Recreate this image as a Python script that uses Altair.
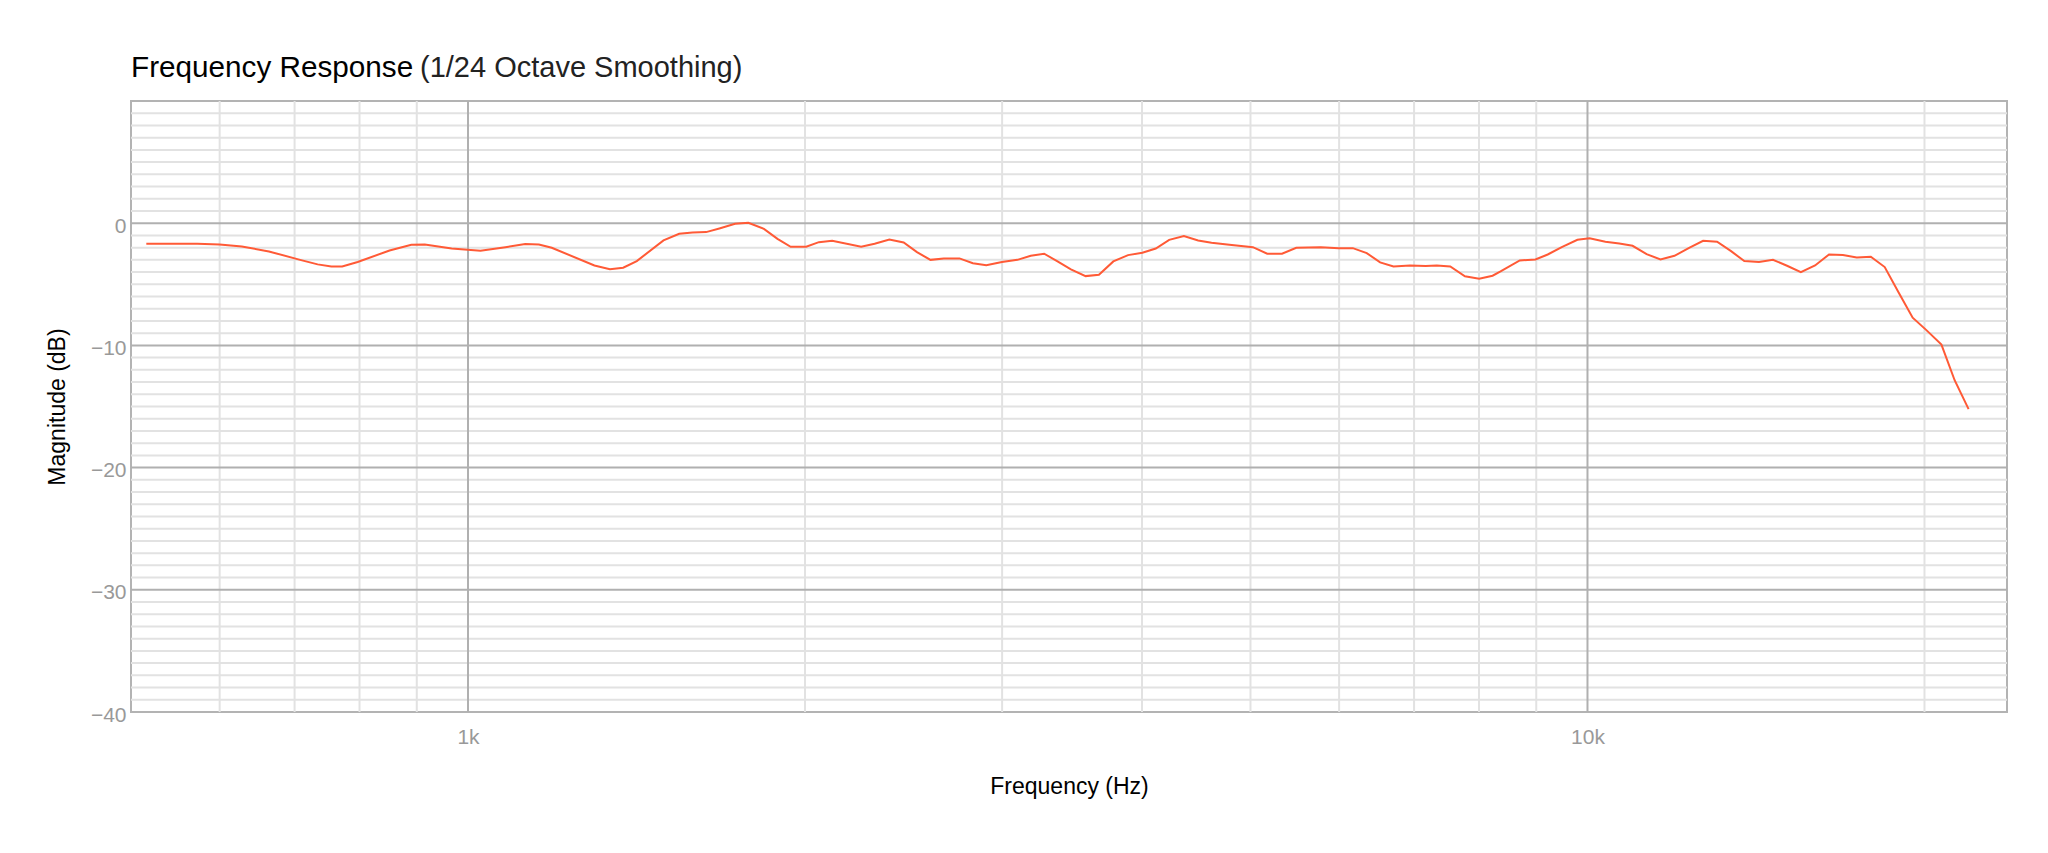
import altair as alt
import pandas as pd

# ---- data ----
freq_hz = [516, 573, 600, 628, 664, 708, 734, 755, 772, 797, 851, 890, 915, 967,
           1026, 1080, 1125, 1157, 1188, 1297, 1339, 1376, 1415, 1495, 1544, 1587,
           1632, 1677, 1732, 1780, 1838, 1890, 1942, 2005, 2058, 2115, 2245, 2308,
           2379, 2450, 2518, 2589, 2661, 2748, 2825, 2904, 2999, 3096, 3182, 3271,
           3362, 3456, 3562, 3661, 3771, 3887, 4003, 4115, 4230, 4360, 4490, 4615,
           4788, 5025, 5175, 5335, 5494, 5778, 5995, 6172, 6351, 6528, 6710, 6942,
           7168, 7335, 7541, 7772, 8003, 8227, 8363, 8700, 8985, 9215, 9485, 9795,
           10044, 10375, 10676, 10972, 11293, 11620, 11960, 12325, 12685, 13055,
           13436, 13807, 14230, 14645, 15075, 15510, 15970, 16435, 16910, 17400,
           17910, 18430, 18970, 19520, 20090, 20710, 21280, 21900]
magnitude_db = [-1.68, -1.68, -1.74, -1.90, -2.31, -3.00, -3.37, -3.54, -3.54, -3.18,
                -2.23, -1.77, -1.74, -2.07, -2.26, -1.96, -1.71, -1.74, -2.01, -3.46,
                -3.76, -3.64, -3.10, -1.41, -0.87, -0.76, -0.73, -0.43, -0.05, 0.03,
                -0.46, -1.28, -1.93, -1.93, -1.55, -1.44, -1.93, -1.68, -1.33, -1.58,
                -2.37, -3.00, -2.88, -2.88, -3.27, -3.43, -3.18, -3.00, -2.67, -2.50,
                -3.13, -3.78, -4.33, -4.22, -3.13, -2.61, -2.42, -2.07, -1.36, -1.06,
                -1.41, -1.60, -1.77, -1.96, -2.50, -2.50, -2.01, -1.96, -2.04, -2.04,
                -2.45, -3.21, -3.54, -3.46, -3.51, -3.46, -3.54, -4.35, -4.54, -4.30,
                -3.95, -3.05, -2.97, -2.56, -1.96, -1.36, -1.23, -1.52, -1.66, -1.85,
                -2.53, -2.97, -2.67, -2.01, -1.44, -1.52, -2.29, -3.10, -3.18, -2.99,
                -3.48, -4.00, -3.46, -2.56, -2.61, -2.80, -2.75, -3.59, -5.69, -7.73,
                -8.77, -9.93, -12.85, -15.22]

x_tick_values = [1000, 10000]
y_tick_values = [-40, -30, -20, -10, 0]
minor_x_hz = [600, 700, 800, 900, 2000, 3000, 4000, 5000, 6000, 7000, 8000, 9000, 20000]
major_x_hz = [1000, 10000]
minor_y_db = [-39, -38, -37, -36, -35, -34, -33, -32, -31,
              -29, -28, -27, -26, -25, -24, -23, -22, -21,
              -19, -18, -17, -16, -15, -14, -13, -12, -11,
              -9, -8, -7, -6, -5, -4, -3, -2, -1,
              1, 2, 3, 4, 5, 6, 7, 8, 9]
major_y_db = [-30, -20, -10, 0]

title_main = "Frequency Response"
title_sub = "(1/24 Octave Smoothing)"

W, H = 1876, 611
FONT = "Liberation Sans"

df = pd.DataFrame({"freq": freq_hz, "db": magnitude_db})
xscale = alt.Scale(type="log", domain=[500, 23700], nice=False)
yscale = alt.Scale(domain=[-40, 10], nice=False, zero=False)

xaxis = alt.Axis(values=x_tick_values,
                 labelExpr="datum.value >= 1000 ? (datum.value / 1000) + 'k' : '' + datum.value",
                 title="Frequency (Hz)", grid=False, ticks=False, domain=False,
                 labelFont=FONT, labelFontSize=21, labelColor="#999999",
                 labelPadding=14, titleFont=FONT, titleFontSize=23,
                 titleFontWeight="normal", titleColor="#000000", titlePadding=28)
yaxis = alt.Axis(values=y_tick_values,
                 labelExpr="datum.value < 0 ? '\u2212' + abs(datum.value) : '' + datum.value",
                 title="Magnitude (dB)", grid=False, ticks=False, domain=False,
                 labelFont=FONT, labelFontSize=21, labelColor="#999999",
                 labelPadding=5, labelOffset=3, titleFont=FONT, titleFontSize=23,
                 titleFontWeight="normal", titleColor="#000000", titlePadding=21)

minor_x = alt.Chart(pd.DataFrame({"gx": minor_x_hz})).mark_rule(
    color="#e2e2e2", strokeWidth=2).encode(
    x=alt.X("gx:Q", scale=xscale, axis=xaxis), y=alt.value(0), y2=alt.value(H))
minor_y = alt.Chart(pd.DataFrame({"gy": minor_y_db})).mark_rule(
    color="#e2e2e2", strokeWidth=2).encode(
    y=alt.Y("gy:Q", scale=yscale, axis=yaxis), x=alt.value(0), x2=alt.value(W))
major_x = alt.Chart(pd.DataFrame({"gx": major_x_hz})).mark_rule(
    color="#b0b0b0", strokeWidth=2).encode(
    x=alt.X("gx:Q", scale=xscale, axis=xaxis), y=alt.value(0), y2=alt.value(H))
major_y = alt.Chart(pd.DataFrame({"gy": major_y_db})).mark_rule(
    color="#b0b0b0", strokeWidth=2).encode(
    y=alt.Y("gy:Q", scale=yscale, axis=yaxis), x=alt.value(0), x2=alt.value(W))

line = alt.Chart(df).mark_line(color="#ff5a36", strokeWidth=2, clip=True).encode(
    x=alt.X("freq:Q", scale=xscale, axis=xaxis),
    y=alt.Y("db:Q", scale=yscale, axis=yaxis),
)

t1 = alt.Chart(pd.DataFrame({"t": [title_main]})).mark_text(
    font=FONT, fontSize=29.7, color="#000000", align="left", baseline="alphabetic").encode(
    text="t:N", x=alt.value(0), y=alt.value(-24))
t2 = alt.Chart(pd.DataFrame({"t": [title_sub]})).mark_text(
    font=FONT, fontSize=29, color="#222222", align="left", baseline="alphabetic").encode(
    text="t:N", x=alt.value(289), y=alt.value(-24))

chart = alt.layer(minor_x, minor_y, major_x, major_y, line, t1, t2).properties(
    width=W, height=H,
    autosize=alt.AutoSizeParams(type="none"),
    padding={"left": 131, "top": 101, "right": 41, "bottom": 141},
    background="white",
).configure_view(stroke="#b3b3b3", strokeWidth=2)

chart.save("out.html", embed_options={"renderer": "svg", "actions": False})
